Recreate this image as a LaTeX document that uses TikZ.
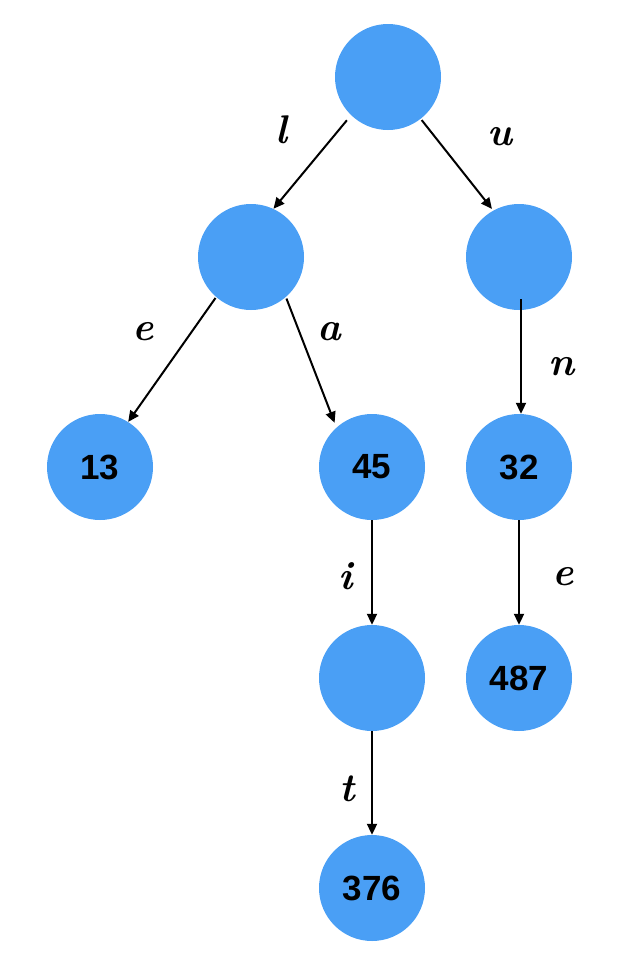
\documentclass[tikz,border=0pt]{standalone}
\usepackage{fontspec}
\setsansfont{Liberation Sans}
\usetikzlibrary{arrows.meta}
\definecolor{nodeblue}{HTML}{4A9FF5}
\begin{document}
\begin{tikzpicture}[x=1pt,y=-1pt,
  tn/.style={circle,fill=nodeblue,minimum size=106pt,inner sep=0pt,font=\sffamily\bfseries\fontsize{35}{35}\selectfont},
  lab/.style={font=\bfseries\itshape\fontsize{40}{40}\selectfont,inner sep=0pt},
  edge/.style={line width=2pt,-{Triangle[length=11pt,width=10pt]}}]
\useasboundingbox (0,0) rectangle (622,956);
\node[tn] (root) at (388,77) {};
\node[tn] (L) at (251,257) {};
\node[tn] (R) at (519,257) {};
\node[tn] (n13) at (100,467) {13};
\node[tn] (n45) at (372,467) {45};
\node[tn] (n32) at (519,467) {32};
\node[tn] (ni) at (372,678) {};
\node[tn] (n487) at (519,678) {487};
\node[tn] (n376) at (372,888) {376};
\draw[edge,shorten <=6.5pt] (root.226) -- (L.65);
\draw[edge,shorten <=1.5pt,shorten >=2pt] (root.308) -- (R.119);
\draw[edge,shorten <=1pt] (L.229) -- (n13.58);
\draw[edge,shorten <=1.5pt,shorten >=5pt] (L.311) -- (n45.132);
\draw[edge,shorten <=-11pt] ([xshift=2pt]R.south) -- ([xshift=2pt]n32.north);
\draw[edge] (n45) -- (ni);
\draw[edge] (n32) -- (n487);
\draw[edge] (ni) -- (n376);
\node[lab] (ll) at (281,130) {l};
\node[lab] (lu) at (500,137) {u};
\node[lab] (le1) at (143,332) {e};
\node[lab] (la) at (329,332) {a};
\node[lab] (ln) at (561,367) {n};
\node[lab] (li) at (346,576) {i};
\node[lab] (le2) at (563,577) {e};
\node[lab] (lt) at (347,789) {t};
\end{tikzpicture}
\end{document}
